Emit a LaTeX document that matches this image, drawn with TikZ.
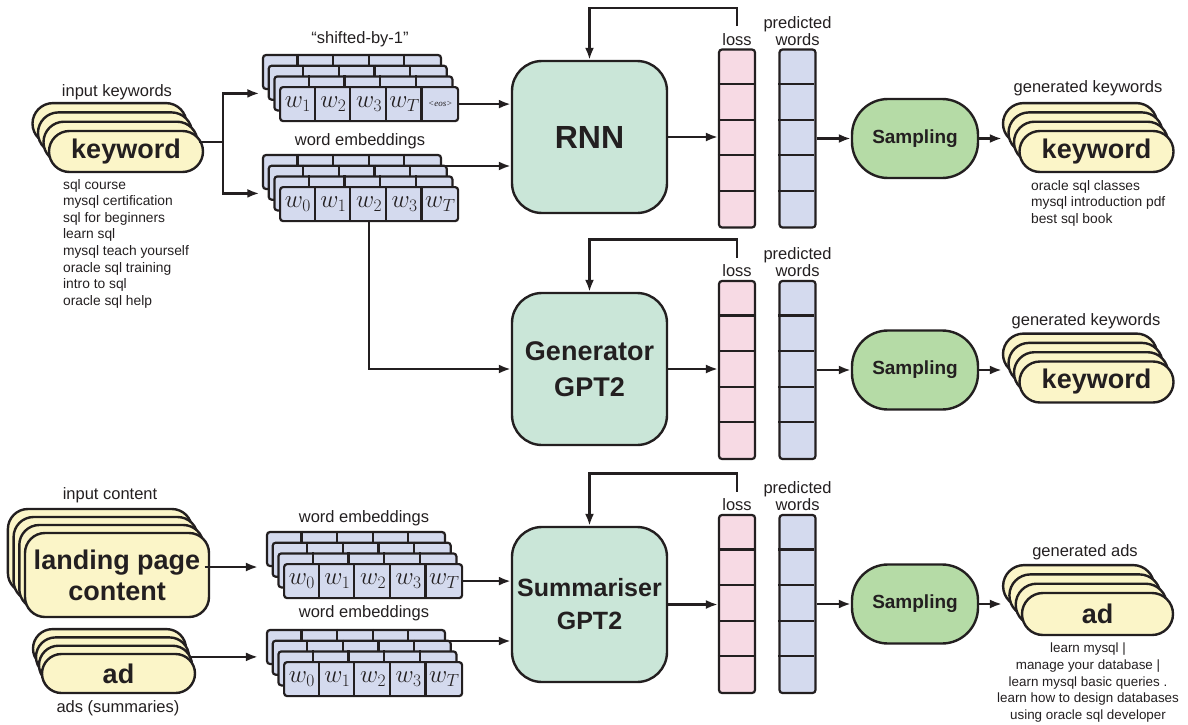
\RequirePackage{fix-cm}
\documentclass[tikz,border=0pt]{standalone}
\usepackage[no-math]{fontspec}
\setmainfont{Liberation Sans}
\newfontfamily\eosfont{Liberation Serif}
\usetikzlibrary{arrows.meta, positioning, calc}

\definecolor{ink}{HTML}{231F20}
\definecolor{kwfill}{HTML}{FBF5C8}
\definecolor{cellfill}{HTML}{D4DAEE}
\definecolor{lossfill}{HTML}{F7DAE4}
\definecolor{boxfill}{HTML}{CAE6D8}
\definecolor{sampfill}{HTML}{B5DBA6}

% stack of four pills: name, centre, width, height, dx, dy, radius, text
\newcommand{\pillstack}[8]{%
  \foreach \k in {3,2,1}
    \node[pill, rounded corners=#7pt, minimum width=#3pt, minimum height=#4pt] (#1-\k) at ($(#2)+({\k*#5},{\k*#6})$) {};
  \node[pill, rounded corners=#7pt, minimum width=#3pt, minimum height=#4pt] (#1-0) at (#2) {#8};
}

% stack of four embedding rows: name, left, top, cell labels
\newcommand{\embstack}[4]{%
  \foreach \k in {3,2,1,0} {
    \node[layerbox] (#1-L\k) at ({#2-5.7*\k},{#3-10.7*\k}) {};
    \foreach \c in {1,...,4}
      \draw ($(#1-L\k.north west)+(\c*35.6,0)$) -- ++(0,34);
  }
  \foreach \lab [count=\c from 0] in {#4}
    \node[wcell] (#1-\c) at ({#2+35.6*\c},#3) {\lab};
}

\begin{document}
\begin{tikzpicture}[x=1pt, y=-1pt, line width=2.2pt, color=ink,
    arr/.style={-{Latex[length=12pt,width=9pt]}, line width=2.3pt},
    lbl/.style={font=\fontsize{16.5}{17}\selectfont, inner sep=2pt},
    lst/.style={font=\fontsize{13.8}{16.6}\selectfont, inner sep=0pt},
    pill/.style={draw, fill=kwfill, line width=2.4pt, inner sep=0pt, align=center, font=\fontsize{27}{31}\selectfont\bfseries},
    layerbox/.style={draw, fill=cellfill, line width=2.2pt, rounded corners=3pt, anchor=north west, minimum width=178pt, minimum height=34pt, inner sep=0pt},
    wcell/.style={anchor=north west, minimum width=35.6pt, minimum height=34pt, inner sep=0pt, font=\fontsize{25}{25}\selectfont},
    model/.style={draw, fill=boxfill, line width=2.4pt, rounded corners=30pt, minimum width=155pt, minimum height=152pt, align=center},
    bar/.style={draw, line width=2.2pt, rounded corners=3pt, minimum width=36pt, minimum height=178pt, inner sep=0pt},
    samp/.style={draw, fill=sampfill, line width=2.4pt, rounded corners=36pt, minimum width=126pt, minimum height=79pt, font=\fontsize{19}{19}\selectfont\bfseries}]
    \useasboundingbox (0,0) rectangle (1188,725);

    % inputs
    \node[lbl] (inkw) at (117,92) {input keywords};
    \pillstack{kw}{126,151.5}{154}{41}{-5.5}{-9.3}{20.5}{keyword}
    \node[lst, anchor=north west, align=left] (kwlist) at (62,178) {sql course\\mysql certification\\sql for beginners\\learn sql\\mysql teach yourself\\oracle sql training\\intro to sql\\oracle sql help};

    \node[lbl] (incont) at (110,495) {input content};
    \pillstack{land}{117,575}{184}{84}{-5.7}{-8}{20}{landing page\\content}
    \pillstack{adin}{118.5,673.5}{153}{39}{-3}{-8.3}{19.5}{ad}
    \node[lbl] (adlbl) at (118,708) {ads (summaries)};

    % embeddings
    \node[lbl] (shlbl) at (360,39) {``shifted-by-1''};
    \embstack{sh}{279}{86}{$w_1$,$w_2$,$w_3$,$w_T$,{\eosfont\itshape\fontsize{9}{9}\selectfont <eos>}}
    \node[lbl] (we1lbl) at (360,141) {word embeddings};
    \embstack{we1}{279}{186}{$w_0$,$w_1$,$w_2$,$w_3$,$w_T$}
    \node[lbl] (we2lbl) at (364,518) {word embeddings};
    \embstack{we2}{283}{563}{$w_0$,$w_1$,$w_2$,$w_3$,$w_T$}
    \node[lbl] (we3lbl) at (364,613) {word embeddings};
    \embstack{we3}{283}{661}{$w_0$,$w_1$,$w_2$,$w_3$,$w_T$}

    % models
    \node[model, font=\fontsize{32}{32}\selectfont\bfseries] (model1) at (589.5,137) {RNN};
    \node[model, font=\fontsize{27}{36}\selectfont\bfseries] (model2) at (589.5,369) {Generator\\GPT2};
    \node[model, font=\fontsize{25}{33}\selectfont\bfseries, minimum height=155pt] (model3) at (589.5,604.5) {Summariser\\GPT2};

    % loss, predicted words, sampling
    \foreach \r/\ry in {1/138.5, 2/370, 3/604} {
        \node[bar, fill=lossfill] (loss\r) at (737,\ry) {};
        \node[bar, fill=cellfill] (pred\r) at (797.5,\ry) {};
        \foreach \i in {1,...,4} {
            \draw ($(loss\r.north west)+(0,\i*35.6)$) -- ++(36,0);
            \draw ($(pred\r.north west)+(0,\i*35.6)$) -- ++(36,0);
        }
        \node[lbl, above=0pt of loss\r] (losslbl\r) {loss};
        \node[lbl, above=0pt of pred\r, align=center] (predlbl\r) {predicted\\words};
        \node[samp] (samp\r) at (915,\ry) {Sampling};
        \draw[arr] (model\r.east) -- (model\r.east -| loss\r.west);
        \draw[arr] (pred\r.east) -- (samp\r.west);
        \draw[arr] ([yshift=4pt]losslbl\r.north) -- ++(0,-18) -| (model\r.north);
    }

    % outputs
    \node[lbl] (genkw1) at (1088,88) {generated keywords};
    \pillstack{gk1}{1096.5,151.5}{154}{41}{-5.5}{-9.3}{20.5}{keyword}
    \node[lst, anchor=north west, align=left] (gklist) at (1030,179) {oracle sql classes\\mysql introduction pdf\\best sql book};
    \node[lbl] (genkw2) at (1086,321) {generated keywords};
    \pillstack{gk2}{1096.5,382}{154}{41}{-5.5}{-9.3}{20.5}{keyword}
    \node[lbl] (genad) at (1085,552) {generated ads};
    \pillstack{ga}{1097.5,614}{151}{42}{-6.3}{-9.3}{21}{ad}
    \node[lst, anchor=north, align=center, font=\fontsize{13.4}{16.6}\selectfont] (galist) at (1088,642) {learn mysql |\\manage your database |\\learn mysql basic queries .\\learn how to design databases\\using oracle sql developer};

    % connectors
    \coordinate (split) at ($(kw-1.east)+(24.5,0)$);
    \draw (kw-1.east) -- (split);
    \draw[arr, shorten >=14pt] (split) |- (sh-L1.west);
    \draw[arr, shorten >=14pt] (split) |- (we1-L1.west);
    \draw[arr] (sh-4.east) -- (sh-4.east -| model1.west);
    \draw[arr] ([yshift=6pt]we1-L3.east) -- ([yshift=6pt]we1-L3.east -| model1.west);
    \draw[arr] (we1-2.south) |- (model2.west);
    \draw[arr, shorten >=8pt] (land-1.east) -- (land-1.east -| we2-L3.west);
    \draw[arr, shorten >=8pt] (adin-2.east) -- (adin-2.east -| we3-L3.west);
    \draw[arr] (we2-4.east) -- (we2-4.east -| model3.west);
    \draw[arr] ([yshift=6pt]we3-L3.east) -- ([yshift=6pt]we3-L3.east -| model3.west);
    \draw[arr] (samp1.east) -- (samp1.east -| gk1-3.west);
    \draw[arr] (samp2.east) -- (samp2.east -| gk2-3.west);
    \draw[arr] (samp3.east) -- (samp3.east -| ga-3.west);
\end{tikzpicture}
\end{document}
